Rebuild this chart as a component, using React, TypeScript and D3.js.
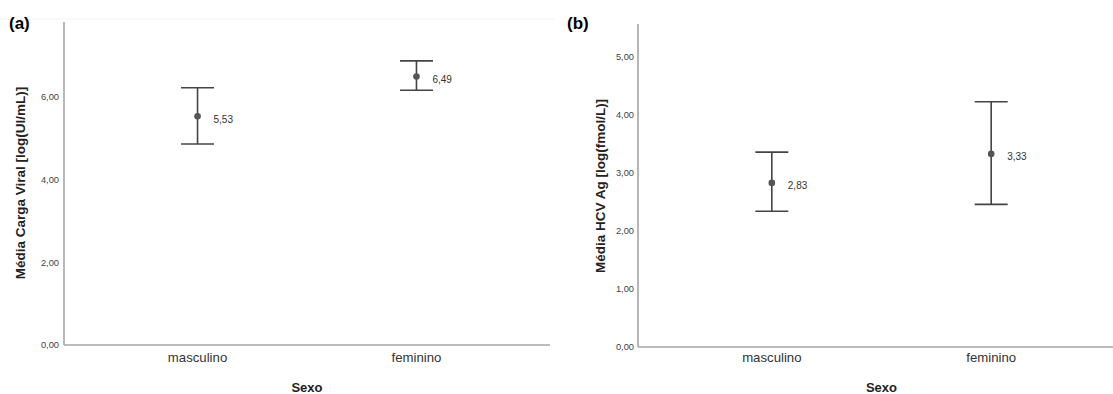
import React from "react";
import * as d3 from "d3";

const categories = ["masculino", "feminino"];
const meanA = [5.53, 6.49];
const lowA = [4.86, 6.16];
const highA = [6.22, 6.87];
const ticksA = [0, 2, 4, 6];
const meanB = [2.83, 3.33];
const lowB = [2.34, 2.46];
const highB = [3.36, 4.23];
const ticksB = [0, 1, 2, 3, 4, 5];

const FONT = "'Liberation Sans', Arial, sans-serif";
const fmt = (v: number) => v.toFixed(2).replace(".", ",");

type PanelProps = {
  label: string;
  yTitle: string;
  x0: number;
  x1: number;
  yTop: number;
  yBottom: number;
  yMax: number;
  means: number[];
  lows: number[];
  highs: number[];
  ticks: number[];
  titleX: number;
  yTitleX: number;
  yTitleY: number;
  tickLabelGap: number;
};

function Panel(p: PanelProps) {
  const x = d3.scalePoint<string>().domain(categories).range([p.x0, p.x1]).padding(0.61);
  const y = d3.scaleLinear().domain([0, p.yMax]).range([p.yBottom, p.yTop]);
  const cap = 16.5;
  return (
    <g fontFamily={FONT}>
      <text x={p.titleX} y={29} fontSize={17} fontWeight="bold" fill="#000">{p.label}</text>
      <line x1={p.x0} x2={p.x0} y1={p.yTop} y2={p.yBottom} stroke="#a6a6a6" strokeWidth={1.6} />
      <line x1={p.x0} x2={p.x1} y1={p.yBottom} y2={p.yBottom} stroke="#a6a6a6" strokeWidth={1.6} />
      {p.ticks.map((t) => (
        <text key={t} x={p.x0 - p.tickLabelGap} y={y(t)} dy="0.35em" textAnchor="end" fontSize={9.3} fill="#444">
          {fmt(t)}
        </text>
      ))}
      {categories.map((c) => (
        <text key={c} x={x(c)} y={362} textAnchor="middle" fontSize={13.2} fill="#333">{c}</text>
      ))}
      <text x={(p.x0 + p.x1) / 2} y={392} textAnchor="middle" fontSize={13} fontWeight="bold" fill="#222">Sexo</text>
      <text
        transform={`translate(${p.yTitleX},${p.yTitleY}) rotate(-90)`}
        textAnchor="middle"
        dy="0.35em"
        fontSize={13.5}
        fontWeight="bold"
        fill="#222"
      >
        {p.yTitle}
      </text>
      {categories.map((c, i) => {
        const cx = x(c) as number;
        return (
          <g key={c}>
            <line x1={cx} x2={cx} y1={y(p.highs[i])} y2={y(p.lows[i])} stroke="#444" strokeWidth={1.6} />
            <line x1={cx - cap} x2={cx + cap} y1={y(p.highs[i])} y2={y(p.highs[i])} stroke="#444" strokeWidth={1.6} />
            <line x1={cx - cap} x2={cx + cap} y1={y(p.lows[i])} y2={y(p.lows[i])} stroke="#444" strokeWidth={1.6} />
            <circle cx={cx} cy={y(p.means[i])} r={3.3} fill="#555" />
            <text x={cx + 16} y={y(p.means[i]) + 3} dy="0.35em" fontSize={10} fill="#333">{fmt(p.means[i])}</text>
          </g>
        );
      })}
    </g>
  );
}

export default function App() {
  return (
    <svg
      width={1113}
      height={394}
      style={{ position: "absolute", left: 0, top: 0, background: "#fff" }}
    >
      <rect width={1113} height={394} fill="#fff" />
      <line x1={0} x2={555} y1={19} y2={19} stroke="#f4f4f4" strokeWidth={1} />
      <Panel
        label="(a)"
        yTitle="Média Carga Viral [log(UI/mL)]"
        x0={64}
        x1={550}
        yTop={22}
        yBottom={345}
        yMax={7.81}
        means={meanA}
        lows={lowA}
        highs={highA}
        ticks={ticksA}
        titleX={9}
        yTitleX={20}
        yTitleY={183}
        tickLabelGap={5}
      />
      <Panel
        label="(b)"
        yTitle="Média HCV Ag [log(fmol/L)]"
        x0={638}
        x1={1125}
        yTop={24}
        yBottom={347}
        yMax={5.57}
        means={meanB}
        lows={lowB}
        highs={highB}
        ticks={ticksB}
        titleX={567}
        yTitleX={600}
        yTitleY={186}
        tickLabelGap={4}
      />
    </svg>
  );
}
